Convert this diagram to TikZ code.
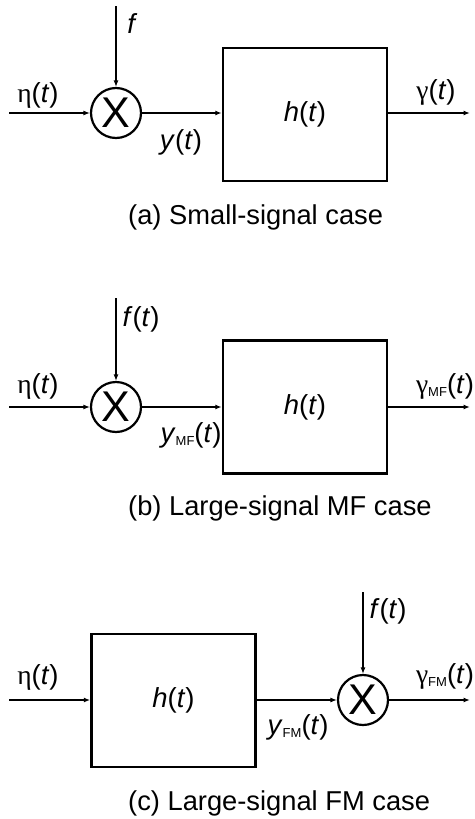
\documentclass[tikz,border=0pt]{standalone}
\usepackage{fontspec}
\setmainfont{Liberation Sans}
\newfontfamily\grk{Liberation Serif}
\usetikzlibrary{arrows.meta}
\newcommand{\gsub}[1]{\raisebox{-3.5pt}{\fontsize{13}{13}\selectfont #1}}
\tikzset{
  lbl/.style={inner sep=0pt, font=\fontsize{27.5}{30}\selectfont},
  captxt/.style={inner sep=0pt, anchor=west, font=\fontsize{27.3}{30}\selectfont},
  mult/.style={circle, draw, line width=2.2pt, minimum size=50pt, inner sep=0pt, font=\fontsize{43}{44}\selectfont},
  blk/.style={draw, line width=2.5pt, minimum width=164pt, minimum height=133pt, inner sep=0pt, font=\fontsize{27.5}{30}\selectfont},
  sig/.style={line width=2.3pt, -{Latex[length=6.5pt,width=5pt]}}
}
\begin{document}
\begin{tikzpicture}[x=1pt,y=-1pt]
\useasboundingbox (0,0) rectangle (474,819);
% ---------- (a)
\node[mult] (ma) at (116,113) {X};
\node[blk] (ba) at (305,114.5) {\textit{h}(\textit{t})};
\coordinate (ina) at (9,113);
\coordinate (fa) at (116,6);
\coordinate (outa) at (470,113);
\draw[sig] (ina) -- (ma.west);
\draw[sig] (fa) -- (ma.north);
\draw[sig] (ma.east) -- (ma.east -| ba.west);
\draw[sig] (ma.east -| ba.east) -- (outa);
\node[lbl] (la1) at (132.5,23.5) {\textit{f}};
\node[lbl] (la2) at (38,95) {{\grk η}(\textit{t})};
\node[lbl] (la3) at (181,142) {\textit{y}(\textit{t})};
\node[lbl] (la4) at (436,92) {{\grk γ}(\textit{t})};
\node[captxt] (capa) at (128,217) {(a) Small-signal case};
% ---------- (b)
\node[mult] (mb) at (116,407) {X};
\node[blk] (bb) at (305,407) {\textit{h}(\textit{t})};
\coordinate (inb) at (9,407);
\coordinate (fb) at (116,298);
\coordinate (outb) at (470,407);
\draw[sig] (inb) -- (mb.west);
\draw[sig] (fb) -- (mb.north);
\draw[sig] (mb.east) -- (mb.east -| bb.west);
\draw[sig] (mb.east -| bb.east) -- (outb);
\node[lbl] (lb1) at (141,319) {\textit{f}(\textit{t})};
\node[lbl] (lb2) at (38,386) {{\grk η}(\textit{t})};
\node[lbl] (lb3) at (191,435) {\textit{y}\gsub{MF}(\textit{t})};
\node[lbl] (lb4) at (445,386) {{\grk γ}\gsub{MF}(\textit{t})};
\node[captxt] (capb) at (128,508) {(b) Large-signal MF case};
% ---------- (c)
\node[blk] (bc) at (173.5,700.5) {\textit{h}(\textit{t})};
\node[mult] (mc) at (363,700) {X};
\coordinate (inc) at (9,700);
\coordinate (fc) at (363,592);
\coordinate (outc) at (470,700);
\draw[sig] (inc) -- (inc -| bc.west);
\draw[sig] (inc -| bc.east) -- (mc.west);
\draw[sig] (fc) -- (mc.north);
\draw[sig] (mc.east) -- (outc);
\node[lbl] (lc1) at (388,611) {\textit{f}(\textit{t})};
\node[lbl] (lc2) at (38,677) {{\grk η}(\textit{t})};
\node[lbl] (lc3) at (298,727) {\textit{y}\gsub{FM}(\textit{t})};
\node[lbl] (lc4) at (445,676) {{\grk γ}\gsub{FM}(\textit{t})};
\node[captxt] (capc) at (128,803) {(c) Large-signal FM case};
\end{tikzpicture}
\end{document}
